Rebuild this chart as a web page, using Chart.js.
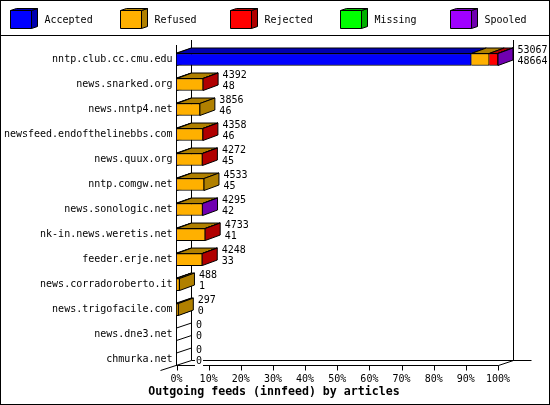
<!DOCTYPE html>
<html>
<head>
<meta charset="utf-8">
<script src="https://cdn.jsdelivr.net/npm/chart.js@4"></script>
<style>
body{margin:0;background:#fff}
canvas{display:block}
</style>
</head>
<body>
<canvas id="chart" width="550" height="405"></canvas>
<script>
const hosts=["nntp.club.cc.cmu.edu","news.snarked.org","news.nntp4.net","newsfeed.endofthelinebbs.com","news.quux.org","nntp.comgw.net","news.sonologic.net","nk-in.news.weretis.net","feeder.erje.net","news.corradoroberto.it","news.trigofacile.com","news.dne3.net","chmurka.net"]

const totals=[53067,4392,3856,4358,4272,4533,4295,4733,4248,488,297,0,0]
const accepted=[48664,48,46,46,45,45,42,41,33,1,0,0,0]
const refused=[2950,4330,3810,4300,4220,4488,4245,4680,4205,487,297,0,0]
const rejected=[1430,14,0,12,7,0,0,12,10,0,0,0,0]
const missing=[0,0,0,0,0,0,0,0,0,0,0,0,0]
const spooled=[23,0,0,0,0,0,8,0,0,0,0,0,0]

const percentTicks=[0,10,20,30,40,50,60,70,80,90,100]
const axisMax=53067

const seriesNames=["Accepted","Refused","Rejected","Missing","Spooled"]
const seriesData=[accepted,refused,rejected,missing,spooled]
const front=["#0000ff","#ffb000","#ff0000","#00ff00","#a000ff"]
const dark=["#0000b0","#b08000","#b00000","#00b000","#7000b0"]

const monoFont='"DejaVu Sans Mono","Liberation Mono",monospace'
const dx=15
const dy=5
const barDy=5.5

function poly(c,pts,fill){
c.beginPath()
pts.forEach((p,i)=>i?c.lineTo(p[0],p[1]):c.moveTo(p[0],p[1]))
c.closePath()
c.fillStyle=fill
c.fill()
c.stroke()
}

function line(c,x1,y1,x2,y2){
c.beginPath()
c.moveTo(x1,y1)
c.lineTo(x2,y2)
c.stroke()
}

/* FRAME AND LEGEND */

const framePlugin={
id:"frame",
afterLayout(chart){
// title is centred on the whole picture, not on the padded box
chart.titleBlock.left=0
chart.titleBlock.right=548
},
beforeDraw(chart){
const c=chart.ctx
c.save()
c.strokeStyle="#000"
c.lineWidth=1
c.strokeRect(0.5,0.5,549,404)
line(c,0,35.5,550,35.5)
seriesNames.forEach((name,i)=>{
const x=10.5+110*i
poly(c,[[x+21,10.5],[x+27,8.5],[x+27,26.5],[x+21,28.5]],dark[i])
poly(c,[[x,10.5],[x+6,8.5],[x+27,8.5],[x+21,10.5]],dark[i])
poly(c,[[x,10.5],[x+21,10.5],[x+21,28.5],[x,28.5]],front[i])
c.fillStyle="#000"
c.font="10px "+monoFont
c.textBaseline="middle"
c.fillText(name,x+34,20)
})
c.restore()
}
}

/* AXES WALLS AND 3D FACES */

const wallPlugin={
id:"walls",
beforeDatasetsDraw(chart){
const c=chart.ctx
const xs=chart.scales.x
const x0=xs.getPixelForValue(0)
const x1=Math.round(xs.getPixelForValue(axisMax))+0.5
const floor=365.5
c.save()
c.strokeStyle="#000"
c.lineWidth=1

line(c,x0,45,x0,floor)
line(c,x0+dx,40,x0+dx,floor-dy)
line(c,x1+dx,40,x1+dx,floor-dy)
line(c,x0,floor,x1,floor)
line(c,x0+dx,floor-dy,x1+33,floor-dy)
line(c,x1,floor,x1+dx,floor-dy)
line(c,x0-16,floor+dy,x0+dx,floor-dy)

for(let k=1;floor-dy-12.5*k>42;k++){
line(c,x0,floor-12.5*k,x0+dx,floor-dy-12.5*k)
}

percentTicks.forEach(p=>{
const x=Math.round(xs.getPixelForValue(p*axisMax/100))+0.5
line(c,x,floor,x,floor+5)
})

hosts.forEach((h,row)=>{
let last=-1
let topY=0
let bottomY=0
seriesData.forEach((s,i)=>{
if(!s[row]) return
const bar=chart.getDatasetMeta(i).data[row]
const left=bar.base
const right=bar.x
topY=bar.y-6
bottomY=bar.y+6
poly(c,[[left,topY],[right,topY],[right+dx,topY-barDy],[left+dx,topY-barDy]],dark[i])
last=i
})
if(last>=0){
const bar=chart.getDatasetMeta(last).data[row]
const r=bar.x
poly(c,[[r,topY],[r+dx,topY-barDy],[r+dx,bottomY-barDy],[r,bottomY]],dark[last])
}
})
c.restore()
},
afterDatasetsDraw(chart){
const c=chart.ctx
const xs=chart.scales.x
const ys=chart.scales.y
c.save()
c.font="10px "+monoFont
c.textBaseline="middle"
hosts.forEach((h,row)=>{
const x=xs.getPixelForValue(totals[row])+dx+4.5
const y=ys.getPixelForValue(row)
const a=String(totals[row])
const b=String(accepted[row])
c.fillStyle="#fff"
c.fillRect(x-1,y-14,c.measureText(a).width+2,10)
c.fillRect(x-1,y-3,c.measureText(b).width+2,10)
c.fillStyle="#000"
c.fillText(a,x,y-9)
c.fillText(b,x,y+2)
})
c.restore()
}
}

new Chart(document.getElementById("chart").getContext("2d"),{
type:"bar",
plugins:[framePlugin,wallPlugin],
data:{
labels:hosts,
datasets:seriesNames.map((name,i)=>({
label:name,
data:seriesData[i],
backgroundColor:front[i],
borderColor:"#000",
borderWidth:1,
barThickness:12
}))
},
options:{
indexAxis:"y",
responsive:false,
animation:false,
layout:{padding:{top:47,right:52,left:0,bottom:0}},
plugins:{
legend:{display:false},
tooltip:{enabled:false},
title:{
display:true,
position:"bottom",
text:"Outgoing feeds (innfeed) by articles",
color:"#000",
font:{family:monoFont,size:11.6,weight:"bold",lineHeight:1.2},
padding:{top:0,bottom:6}
}
},
scales:{
x:{
stacked:true,
min:0,
max:axisMax,
afterBuildTicks(scale){
scale.ticks=percentTicks.map(p=>({value:p*axisMax/100}))
},
afterFit(scale){
scale.height=13
},
grid:{display:false,drawTicks:false},
border:{display:false},
ticks:{
autoSkip:false,
maxRotation:0,
padding:1,
color:"#000",
font:{family:monoFont,size:10},
callback:(v,i)=>percentTicks[i]+"%"
}
},
y:{
stacked:true,
afterFit(scale){
scale.width=176.5
},
grid:{display:false,drawTicks:false},
border:{display:false},
ticks:{
autoSkip:false,
padding:4,
color:"#000",
font:{family:monoFont,size:10}
}
}
}
}
})
</script>
</body>
</html>
